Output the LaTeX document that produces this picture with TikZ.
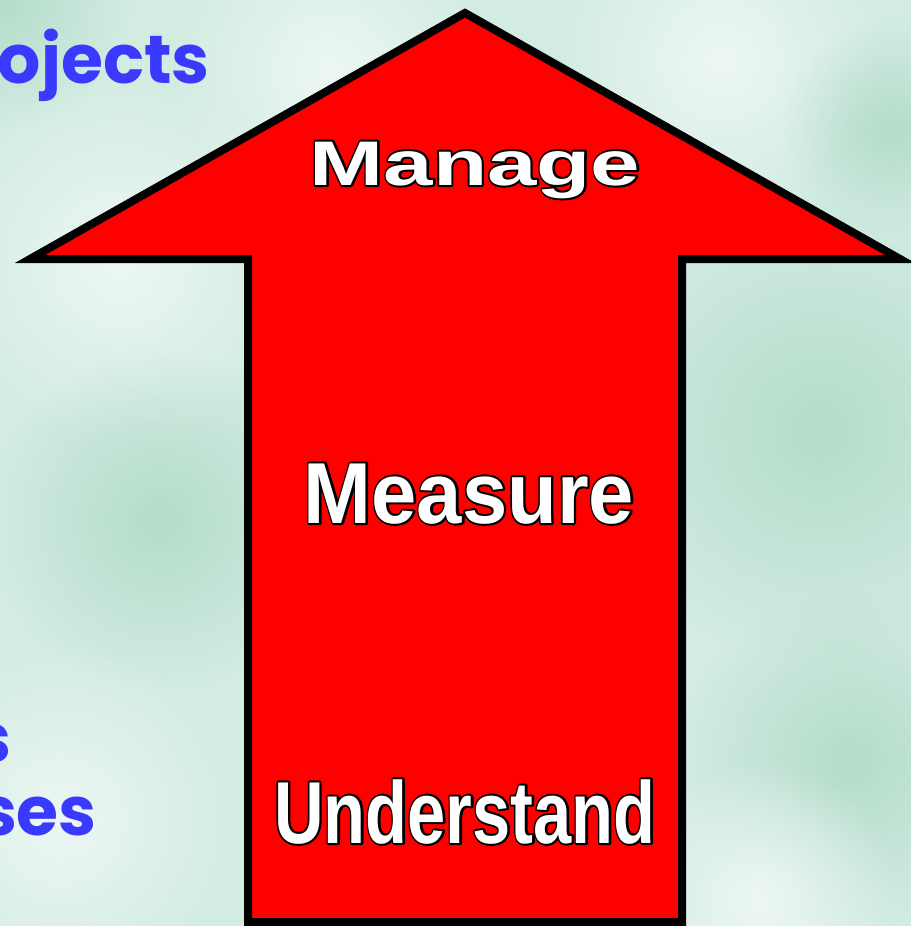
\documentclass[tikz,border=0pt]{standalone}
\usepackage{fontspec}
\usetikzlibrary{fadings}
\newfontfamily\managefont[FakeStretch=1.41]{Liberation Sans}
\newfontfamily\measurefont[FakeStretch=0.94]{Liberation Sans}
\newfontfamily\understandfont[FakeStretch=0.78]{Liberation Sans}
\newfontfamily\bluefont{Poppins}
% white letters with a thin black rim: stroked copy first, filled copy on top
\newcommand\rimmed[1]{\rlap{\special{pdf:literal direct 1 Tr 4 w 0 G 1 j}#1\special{pdf:literal direct 0 Tr}}#1}
\definecolor{mint}{HTML}{D2ECE2}
\definecolor{mintdark}{HTML}{B3DCCA}
\definecolor{mintlight}{HTML}{EDF7F3}
\definecolor{textblue}{HTML}{3A3AFF}
\tikzfading[name=soft,inner color=transparent!0,outer color=transparent!100]
\tikzset{
  word/.style={text=white,anchor=base,inner sep=0pt},
  side/.style={text=textblue,anchor=base east,inner sep=0pt,
    font=\bluefont\bfseries\fontsize{68}{68}\selectfont},
  blob/.style={fill=#1,path fading=soft}
}
\begin{document}
\begin{tikzpicture}[x=1pt,y=-1pt,line join=miter]
  \clip (0,0) rectangle (911,926);
  \fill[mint] (0,0) rectangle (911,926);
  % soft patches in the backdrop
  \foreach \cx/\cy/\r/\c in {0/0/130/mintdark,120/260/190/mintlight,
      160/520/170/mintdark,60/820/180/mintlight,820/430/230/mintdark,
      850/760/170/mintdark,720/60/170/mintlight,890/130/110/mintdark,
      760/900/140/mintlight,330/70/160/mintlight}
    \fill[blob=\c] (\cx,\cy) circle (\r);
  % the big arrow
  \draw[line width=8pt,fill=red] (465,13) -- (900,259) -- (682,259)
    -- (682,922) -- (248,922) -- (248,259) -- (30,259) -- cycle;
  \node[word,font=\managefont\bfseries\fontsize{63}{63}\selectfont]
    (manage) at (475,185) {\rimmed{Manage}};
  \node[word,font=\measurefont\bfseries\fontsize{86.6}{86.6}\selectfont]
    (measure) at (469,523) {\rimmed{Measure}};
  \node[word,font=\understandfont\bfseries\fontsize{88}{88}\selectfont]
    (understand) at (465,843) {\rimmed{Understand}};
  % words running in from the left
  \node[side] (projects) at (210,83) {ojects};
  \node[side] (ends) at (12,762) {s};
  \node[side] (cases) at (97,835) {ses};
\end{tikzpicture}
\end{document}
